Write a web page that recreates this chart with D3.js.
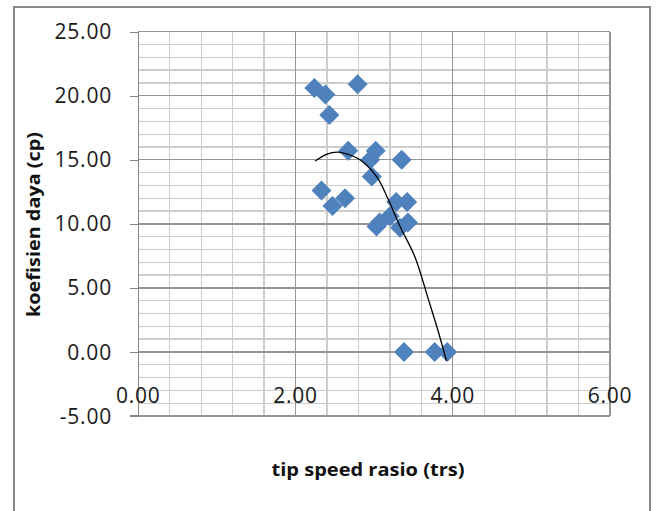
<!DOCTYPE html>
<html><head><meta charset="utf-8">
<script src="https://cdn.jsdelivr.net/npm/d3@7/dist/d3.min.js"></script>
<style>body{margin:0;background:#fff} svg{display:block}</style>
</head><body><svg id="c" width="657" height="511"></svg>
<script>
// ---- data ----
const tsr = [2.24, 2.38, 2.79, 2.43, 2.67, 3.02, 2.95, 3.35, 2.97, 2.33, 2.63, 2.47, 3.28, 3.42, 3.20, 3.03, 3.07, 3.33, 3.43, 3.38, 3.77, 3.93];
const cp  = [20.6, 20.1, 20.9, 18.5, 15.7, 15.7, 15.0, 15.0, 13.7, 12.6, 12.0, 11.4, 11.7, 11.7, 10.6, 9.8, 10.1, 9.7, 10.1, 0.0, 0.0, 0.0];
const trendX = [2.25, 2.40, 2.54, 2.68, 2.82, 3.03, 3.18, 3.33, 3.52, 3.69, 3.82, 3.92];
const trendY = [14.9, 15.45, 15.6, 15.4, 15.0, 13.7, 11.9, 9.8, 7.4, 4.1, 1.5, -0.7];
const xTicks = [0, 2, 4, 6];
const xTickLabels = ["0.00", "2.00", "4.00", "6.00"];
const yTicks = [-5, 0, 5, 10, 15, 20, 25];
const yTickLabels = ["-5.00", "0.00", "5.00", "10.00", "15.00", "20.00", "25.00"];
const xMinorStep = 0.4;
const yMinorStep = 1;
const xTitle = "tip speed rasio (trs)";
const yTitle = "koefisien daya (cp)";

// ---- drawing ----
const svg = d3.select("#c");
svg.append("rect").attr("width", 657).attr("height", 511).attr("fill", "#fff");
svg.append("rect").attr("x", 14).attr("y", 7).attr("width", 636).attr("height", 530)
  .attr("fill", "none").attr("stroke", "#8a8a8a").attr("stroke-width", 2);

const x = d3.scaleLinear().domain([0, 6]).range([138.3, 610]);
const y = d3.scaleLinear().domain([-5, 25]).range([416, 31.7]);

const grid = svg.append("g").attr("shape-rendering", "crispEdges");
const xMinor = d3.range(0, 6 + 1e-9, xMinorStep);
const yMinor = d3.range(-5, 25 + 1e-9, yMinorStep);
grid.selectAll(".xm").data(xMinor).join("line")
  .attr("x1", d => x(d)).attr("x2", d => x(d)).attr("y1", y(25)).attr("y2", y(-5))
  .attr("stroke", "#cccccc").attr("stroke-width", 1.3);
grid.selectAll(".ym").data(yMinor).join("line")
  .attr("y1", d => y(d)).attr("y2", d => y(d)).attr("x1", x(0)).attr("x2", x(6))
  .attr("stroke", "#cccccc").attr("stroke-width", 1.3);
grid.selectAll(".xM").data(xTicks).join("line")
  .attr("x1", d => x(d)).attr("x2", d => x(d)).attr("y1", y(25)).attr("y2", y(-5))
  .attr("stroke", "#959595").attr("stroke-width", 1.3);
grid.selectAll(".yM").data(yTicks).join("line")
  .attr("y1", d => y(d)).attr("y2", d => y(d)).attr("x1", x(0)).attr("x2", x(6))
  .attr("stroke", "#959595").attr("stroke-width", 1.3);

// y axis with outward ticks
const yAxis = d3.axisLeft(y).tickValues(yTicks).tickSize(8).tickFormat("");
const ya = svg.append("g").attr("transform", `translate(${x(0)},0)`).call(yAxis);
ya.selectAll("path,line").attr("stroke", "#868686").attr("stroke-width", 1.3).attr("shape-rendering", "crispEdges");
ya.select("path").attr("d", `M-8,${y(-5)}H0V${y(25)}`);

// y tick labels
svg.append("g").selectAll("text").data(yTicks).join("text")
  .attr("x", 112).attr("y", d => y(d)).attr("dy", "0.36em")
  .attr("text-anchor", "end")
  .style("font-family", "'Open Sans', sans-serif").style("font-size", "21px")
  .style("letter-spacing", "0.8px").attr("fill", "#1a1a1a")
  .text((d, i) => yTickLabels[i]);

// x tick labels (drawn over grid, above bottom axis)
svg.append("g").selectAll("text").data(xTicks).join("text")
  .attr("x", d => x(d)).attr("y", 403)
  .attr("text-anchor", "middle")
  .style("font-family", "'Open Sans', sans-serif").style("font-size", "21px")
  .style("letter-spacing", "0.8px").attr("fill", "#1a1a1a")
  .text((d, i) => xTickLabels[i]);

// points
const pts = tsr.map((d, i) => [d, cp[i]]);
const sym = d3.symbol().type(d3.symbolSquare).size(200);
svg.append("g").selectAll("path").data(pts).join("path")
  .attr("d", sym)
  .attr("transform", d => `translate(${x(d[0])},${y(d[1])}) rotate(45)`)
  .attr("fill", "#4f81bd");

// trendline
const tr = trendX.map((d, i) => [d, trendY[i]]);
svg.append("path").datum(tr)
  .attr("d", d3.line().x(d => x(d[0])).y(d => y(d[1])).curve(d3.curveCatmullRom))
  .attr("fill", "none").attr("stroke", "#000").attr("stroke-width", 1.3);

// titles
svg.append("text").attr("x", 368).attr("y", 476).attr("text-anchor", "middle")
  .style("font-family", "'Open Sans', sans-serif").style("font-size", "17px").style("font-weight", "bold")
  .attr("textLength", 193).attr("lengthAdjust", "spacingAndGlyphs")
  .attr("fill", "#111").text(xTitle);
svg.append("text").attr("transform", "translate(40,224.5) rotate(-90)").attr("text-anchor", "middle")
  .style("font-family", "'Open Sans', sans-serif").style("font-size", "17px").style("font-weight", "bold")
  .attr("textLength", 185).attr("lengthAdjust", "spacingAndGlyphs")
  .attr("fill", "#111").text(yTitle);
</script></body></html>
